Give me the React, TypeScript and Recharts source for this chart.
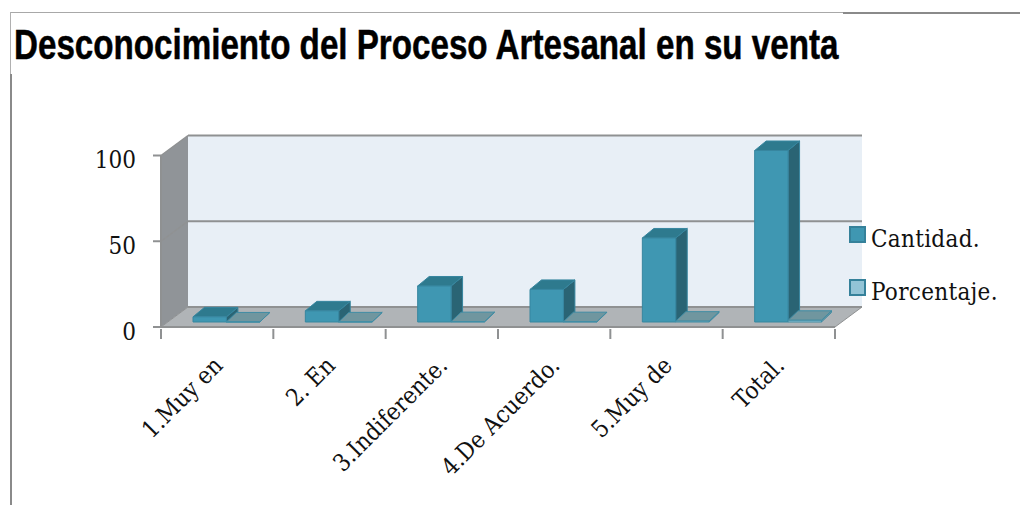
import { BarChart, Bar, XAxis, YAxis, Legend, ReferenceArea } from 'recharts';

const categories = ['1.Muy en', '2. En', '3.Indiferente.', '4.De Acuerdo.', '5.Muy de', 'Total.'];
const cantidad = [3, 6.5, 21, 19, 49, 100];
const porcentaje = [0.03, 0.07, 0.21, 0.19, 0.5, 1];
const yTicks = [0, 50, 100];
const wallBands = [[0, 50], [50, 100]];

const data = categories.map((name, i) => ({ name, cantidad: cantidad[i], porcentaje: porcentaje[i] }));

const SERIF = "'DejaVu Serif Condensed', 'DejaVu Serif', serif";
const LINE = '#8f9192';
// 3D offset of the back wall from the front plane
const DX = 27;
const DY = -20;
// bars sit part way into the floor
const BAR_DX = 9;
const BAR_DY = -5;

function Wall({ x, y, width, height, isBottom }: any) {
  const top = y + DY;
  const bottom = y + height + DY;
  return (
    <g>
      <rect x={x + DX} y={top} width={width} height={height} fill="#e8eff6" />
      <polygon
        points={`${x},${y} ${x + DX},${top} ${x + DX},${bottom} ${x},${y + height}`}
        fill="#909498"
      />
      <line x1={x} y1={y} x2={x + DX} y2={top} stroke={LINE} strokeWidth={1.5} />
      <line x1={x + DX} y1={top} x2={x + DX + width} y2={top} stroke={LINE} strokeWidth={2} />
      {isBottom && (
        <g>
          <polygon
            points={`${x},${y + height} ${x + DX},${bottom} ${x + DX + width},${bottom} ${x + width},${y + height}`}
            fill="#b0b4b7"
          />
          <line x1={x + DX} y1={bottom} x2={x + DX + width} y2={bottom} stroke={LINE} strokeWidth={2} />
          <line x1={x} y1={y + height} x2={x + DX} y2={bottom} stroke={LINE} strokeWidth={1} />
          <line x1={x + width} y1={y + height} x2={x + DX + width} y2={bottom} stroke={LINE} strokeWidth={1} />
        </g>
      )}
    </g>
  );
}

function Bar3D({ x, y, width, height, front, top, side, stroke, depth }: any) {
  const l = x + BAR_DX;
  const t = y + BAR_DY;
  const r = l + width;
  const b = t + height;
  const dx = depth;
  const dy = -9.5;
  return (
    <g stroke={stroke} strokeWidth={1} strokeLinejoin="round">
      <polygon points={`${r},${t} ${r + dx},${t + dy} ${r + dx},${b + dy} ${r},${b}`} fill={side} />
      <polygon points={`${l},${t} ${l + dx},${t + dy} ${r + dx},${t + dy} ${r},${t}`} fill={top} />
      <rect x={l} y={t} width={width} height={height} fill={front} />
    </g>
  );
}

// tick marks sit on the category edges, not the centres
function CategoryTick({ x, y, index, payload }: any) {
  const half = payload.offset;
  const isLast = index === categories.length - 1;
  return (
    <g>
      <line x1={x - half} y1={y - 10} x2={x - half} y2={y} stroke={LINE} strokeWidth={2} />
      {isLast && <line x1={x + half} y1={y - 10} x2={x + half} y2={y} stroke={LINE} strokeWidth={2} />}
      <text
        x={x + 7}
        y={y + 28}
        transform={`rotate(-45 ${x + 7} ${y + 28})`}
        textAnchor="end"
        fontFamily={SERIF}
        fontSize={24}
        fill="#111"
      >
        {payload.value}
      </text>
    </g>
  );
}

function LegendBox({ payload }: any) {
  return (
    <div>
      {payload.map((item: any) => (
        <div key={item.value} style={{ display: 'flex', alignItems: 'center', height: 53 }}>
          <span
            style={{
              width: 13,
              height: 13,
              background: item.color,
              border: '2px solid #35819a',
              marginRight: 5,
            }}
          />
          <span style={{ fontFamily: SERIF, fontSize: 24, letterSpacing: 0.3, color: '#111', position: 'relative', top: 4 }}>{item.value}</span>
        </div>
      ))}
    </div>
  );
}

export default function App() {
  return (
    <div style={{ position: 'absolute', left: 0, top: 0, width: 1020, height: 505, background: '#fff', overflow: 'hidden' }}>
      <div style={{ position: 'absolute', left: 10, top: 12, width: 834, height: 1, background: '#a8a8a8' }} />
      <div style={{ position: 'absolute', left: 843, top: 12, width: 177, height: 2, background: '#8a8a8a' }} />
      <div style={{ position: 'absolute', left: 10, top: 12, width: 1, height: 62, background: '#b0b0b0' }} />
      <div style={{ position: 'absolute', left: 10, top: 74, width: 2, height: 431, background: '#8a8a8a' }} />
      <svg width={1020} height={80} style={{ position: 'absolute', left: 0, top: 0 }}>
        <text
          transform="translate(14 59) scale(0.79 1)"
          fontFamily="'Liberation Sans', sans-serif"
          fontWeight={700}
          fontSize={42}
          fill="#000"
          stroke="#000"
          strokeWidth={0.5}
        >
          Desconocimiento del Proceso Artesanal en su venta
        </text>
      </svg>
      <BarChart
        width={1020}
        height={505}
        data={data}
        margin={{ top: 155.5, right: 185, left: 0, bottom: 0 }}
        barSize={33.4}
        barGap={0}
        style={{ position: 'absolute', left: 0, top: 0 }}
      >
        <ReferenceArea y1={wallBands[1][0]} y2={wallBands[1][1]} shape={(p: any) => <Wall {...p} />} ifOverflow="visible" />
        <ReferenceArea y1={wallBands[0][0]} y2={wallBands[0][1]} shape={(p: any) => <Wall {...p} isBottom />} ifOverflow="visible" />
        <XAxis
          dataKey="name"
          height={178}
          interval={0}
          axisLine={{ stroke: LINE, strokeWidth: 2 }}
          tickLine={{ stroke: 'none' }}
          tickSize={10}
          tick={<CategoryTick />}
          ticks={categories}
        />
        <YAxis
          width={161}
          domain={[0, 100]}
          ticks={yTicks}
          axisLine={{ stroke: LINE, strokeWidth: 2 }}
          tickLine={{ stroke: LINE, strokeWidth: 2 }}
          tickSize={8}
          tickMargin={17}
          tick={{ fontFamily: SERIF, fontSize: 24, fill: '#111', dy: 4 }}
        />
        <Legend
          layout="horizontal"
          align="center"
          verticalAlign="middle"
          content={<LegendBox />}
          wrapperStyle={{ position: 'absolute', left: 849, top: 208, width: 170, height: 106 }}
        />
        <Bar
          dataKey="cantidad"
          name="Cantidad."
          fill="#3f97b2"
          isAnimationActive={false}
          shape={(p: any) => <Bar3D {...p} depth={11.5} front="#3f97b2" top="#2e7a8e" side="#2a6474" stroke="#37869f" />}
        />
        <Bar
          dataKey="porcentaje"
          name="Porcentaje."
          fill="#93c4d6"
          isAnimationActive={false}
          shape={(p: any) => <Bar3D {...p} depth={10} front="#93c4d6" top="#70969f" side="#70969f" stroke="#3f8ca4" />}
        />
      </BarChart>
    </div>
  );
}
